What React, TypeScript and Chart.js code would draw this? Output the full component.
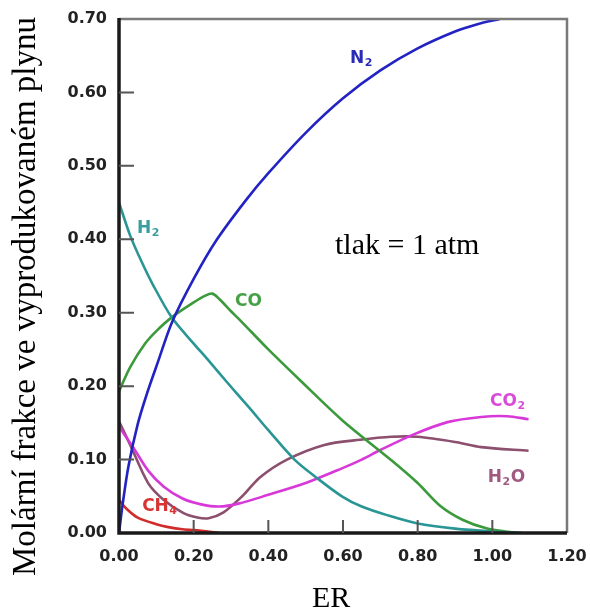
import React, { useEffect, useRef } from "react";
import { Chart, registerables } from "chart.js";

Chart.register(...registerables);

// ---- data ----
const xTicks = [0, 0.2, 0.4, 0.6, 0.8, 1.0, 1.2];
const yTicks = [0, 0.1, 0.2, 0.3, 0.4, 0.5, 0.6, 0.7];

const n2X = [0, 0.01, 0.025, 0.05, 0.075, 0.105, 0.142, 0.2, 0.26, 0.338, 0.4, 0.5, 0.6, 0.7, 0.8, 0.9, 0.96, 1.02];
const n2Y = [0, 0.04, 0.09, 0.148, 0.19, 0.234, 0.287, 0.346, 0.398, 0.452, 0.49, 0.545, 0.592, 0.63, 0.66, 0.683, 0.693, 0.7];

const h2X = [0, 0.03, 0.06, 0.091, 0.142, 0.2, 0.238, 0.29, 0.35, 0.4, 0.47, 0.53, 0.597, 0.65, 0.72, 0.8, 0.9, 1.0, 1.08];
const h2Y = [0.45, 0.405, 0.37, 0.338, 0.293, 0.258, 0.236, 0.205, 0.17, 0.14, 0.1, 0.075, 0.05, 0.036, 0.024, 0.013, 0.006, 0.002, 0];

const coX = [0, 0.03, 0.07, 0.1, 0.142, 0.2, 0.23, 0.25, 0.27, 0.3, 0.324, 0.4, 0.485, 0.597, 0.732, 0.8, 0.86, 0.92, 0.986, 1.065];
const coY = [0.193, 0.226, 0.258, 0.275, 0.294, 0.314, 0.323, 0.326, 0.318, 0.302, 0.29, 0.25, 0.208, 0.154, 0.098, 0.068, 0.037, 0.018, 0.006, 0];

const co2X = [0, 0.04, 0.078, 0.12, 0.17, 0.22, 0.268, 0.32, 0.4, 0.5, 0.597, 0.65, 0.7, 0.788, 0.88, 0.97, 1.04, 1.097];
const co2Y = [0.145, 0.115, 0.085, 0.063, 0.047, 0.039, 0.036, 0.04, 0.052, 0.068, 0.088, 0.1, 0.113, 0.134, 0.151, 0.158, 0.159, 0.155];

const h2oX = [0, 0.03, 0.078, 0.12, 0.173, 0.21, 0.24, 0.28, 0.33, 0.378, 0.45, 0.55, 0.646, 0.73, 0.8, 0.9, 0.97, 1.097];
const h2oY = [0.152, 0.12, 0.068, 0.045, 0.027, 0.021, 0.02, 0.028, 0.05, 0.076, 0.1, 0.12, 0.127, 0.131, 0.131, 0.124, 0.117, 0.112];

const ch4X = [0, 0.02, 0.05, 0.1, 0.132, 0.17, 0.22, 0.27];
const ch4Y = [0.045, 0.033, 0.021, 0.012, 0.008, 0.005, 0.003, 0];

const seriesNames = ["N2", "H2", "CO", "CO2", "H2O", "CH4"];
const seriesColors = ["#2323c4", "#2a9595", "#3b9a3b", "#d838d8", "#8c4f6e", "#d22b2b"];
const labelColors = ["#2a2ab8", "#3a9e9e", "#46a046", "#d84cd8", "#a05a80", "#d83434"];
// label pieces: [main, sub, main2]
const labelParts = [
  ["N", "2", ""],
  ["H", "2", ""],
  ["CO", "", ""],
  ["CO", "2", ""],
  ["H", "2", "O"],
  ["CH", "4", ""],
];
const labelAnchorX = [0.619, 0.048, 0.311, 0.994, 0.988, 0.062];
const labelAnchorY = [0.64, 0.4085, 0.309, 0.173, 0.0695, 0.03];

const yTitle = "Molární frakce ve vyprodukovaném plynu";
const xTitle = "ER";
const note = "tlak = 1 atm";

const allX = [n2X, h2X, coX, co2X, h2oX, ch4X];
const allY = [n2Y, h2Y, coY, co2Y, h2oY, ch4Y];

const sansBold = "'DejaVu Sans', 'Liberation Sans', Arial, sans-serif";

const decorPlugin = {
  id: "decor",
  afterDatasetsDraw(chart: any) {
    const ctx = chart.ctx;
    const a = chart.chartArea;
    const xs = chart.scales.x;
    const ys = chart.scales.y;
    ctx.save();
    // top & right frame (gray)
    ctx.strokeStyle = "#7a7a7a";
    ctx.lineWidth = 2.5;
    ctx.beginPath();
    ctx.moveTo(a.left, a.top);
    ctx.lineTo(a.right, a.top);
    ctx.lineTo(a.right, a.bottom);
    ctx.stroke();
    // left & bottom axes (black)
    ctx.strokeStyle = "#1a1a1a";
    ctx.lineWidth = 3.5;
    ctx.beginPath();
    ctx.moveTo(a.left, a.top - 1);
    ctx.lineTo(a.left, a.bottom);
    ctx.lineTo(a.right, a.bottom);
    ctx.stroke();
    // inner ticks
    ctx.strokeStyle = "#555";
    ctx.lineWidth = 2;
    ctx.beginPath();
    yTicks.forEach((v) => {
      if (v <= 0 || v >= 0.7) return;
      const py = ys.getPixelForValue(v);
      ctx.moveTo(a.left, py);
      ctx.lineTo(a.left + 15, py);
    });
    xTicks.forEach((v) => {
      if (v <= 0 || v >= 1.2) return;
      const px = xs.getPixelForValue(v);
      ctx.moveTo(px, a.bottom);
      ctx.lineTo(px, a.bottom - 13);
    });
    ctx.stroke();

    // series labels
    ctx.textBaseline = "alphabetic";
    ctx.textAlign = "left";
    labelParts.forEach((parts, i) => {
      let px = xs.getPixelForValue(labelAnchorX[i]);
      const py = ys.getPixelForValue(labelAnchorY[i]);
      ctx.fillStyle = labelColors[i];
      ctx.font = "bold 17px " + sansBold;
      ctx.fillText(parts[0], px, py);
      px += ctx.measureText(parts[0]).width + 0.5;
      if (parts[1]) {
        ctx.font = "bold 11px " + sansBold;
        ctx.fillText(parts[1], px, py + 3);
        px += ctx.measureText(parts[1]).width + 0.5;
      }
      if (parts[2]) {
        ctx.font = "bold 17px " + sansBold;
        ctx.fillText(parts[2], px, py);
      }
    });

    // texts in Times
    ctx.fillStyle = "#000";
    ctx.font = "30px 'Liberation Serif', 'Times New Roman', serif";
    ctx.fillText(note, 335, 254);
    ctx.fillText(xTitle, 312, 607);
    ctx.save();
    ctx.translate(35, 296.5);
    ctx.rotate(-Math.PI / 2);
    ctx.textAlign = "center";
    ctx.font = "33px 'Liberation Serif', 'Times New Roman', serif";
    ctx.fillText(yTitle, 0, 0);
    ctx.restore();
    ctx.restore();
  },
};

export default function App() {
  const ref = useRef<HTMLCanvasElement | null>(null);
  useEffect(() => {
    if (!ref.current) return;
    const datasets = seriesNames.map((name, i) => ({
      label: name,
      data: allX[i].map((x, j) => ({ x, y: allY[i][j] })),
      borderColor: seriesColors[i],
      backgroundColor: seriesColors[i],
      borderWidth: 2.6,
      pointRadius: 0,
      showLine: true,
      fill: false,
      tension: 0.3,
      order: i === 0 ? 0 : i + 1,
    }));
    const tickFont = { family: sansBold, size: 16, weight: "bold" as const };
    const chart = new Chart(ref.current, {
      type: "scatter",
      data: { datasets },
      options: {
        animation: false,
        responsive: false,
        maintainAspectRatio: false,
        layout: { padding: { top: 19, right: 23, left: 0, bottom: 0 } },
        plugins: { legend: { display: false }, tooltip: { enabled: false } },
        scales: {
          x: {
            type: "linear",
            min: 0,
            max: 1.2,
            afterBuildTicks: (s: any) => {
              s.ticks = xTicks.map((v) => ({ value: v }));
            },
            afterFit: (s: any) => {
              s.height = 77;
              s.paddingLeft = 0;
              s.paddingRight = 0;
            },
            ticks: {
              callback: (v: any) => Number(v).toFixed(2),
              font: tickFont,
              color: "#222",
              padding: 14,
              maxRotation: 0,
              autoSkip: false,
            },
            grid: { display: false, drawTicks: false },
            border: { display: false },
          },
          y: {
            type: "linear",
            min: 0,
            max: 0.7,
            afterBuildTicks: (s: any) => {
              s.ticks = yTicks.map((v) => ({ value: v }));
            },
            afterFit: (s: any) => {
              s.width = 119;
              s.paddingTop = 0;
              s.paddingBottom = 0;
            },
            ticks: {
              callback: (v: any) => Number(v).toFixed(2),
              font: tickFont,
              color: "#222",
              padding: 12,
              autoSkip: false,
            },
            grid: { display: false, drawTicks: false },
            border: { display: false },
          },
        },
      },
      plugins: [decorPlugin],
    });
    return () => chart.destroy();
  }, []);
  return (
    <div style={{ position: "fixed", left: 0, top: 0, width: 590, height: 610, background: "#fff" }}>
      <canvas ref={ref} width={590} height={610} style={{ width: 590, height: 610, display: "block" }} />
    </div>
  );
}
